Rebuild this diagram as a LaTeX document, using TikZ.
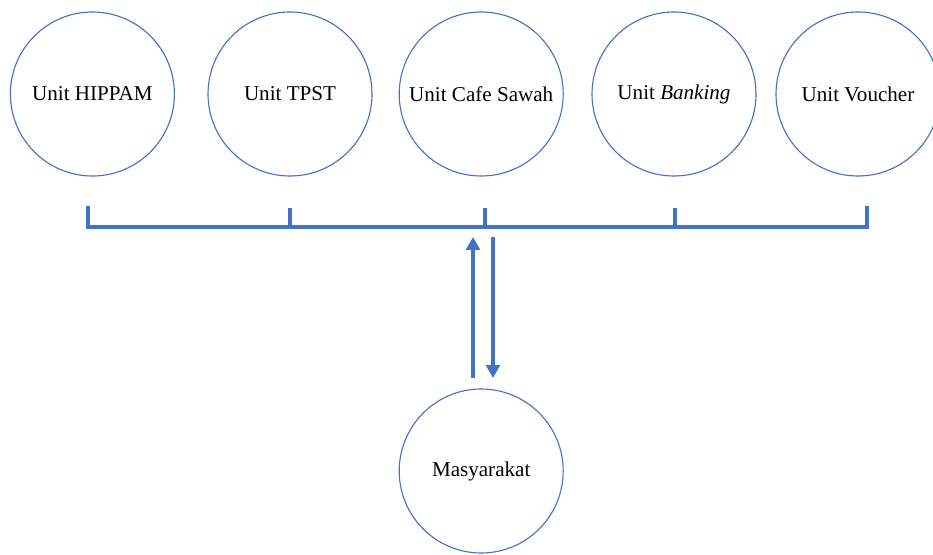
\documentclass[tikz,border=0pt]{standalone}
\usepackage{fontspec}
\setmainfont{Liberation Serif}
\usepackage{xcolor}
\usepackage{tikz}
\usetikzlibrary{arrows.meta}
\definecolor{unitblue}{HTML}{4472C4}
\tikzset{
  unit/.style={circle, draw=unitblue, line width=0.8pt, minimum size=4.1cm,
    inner sep=0pt, font=\fontsize{15}{18}\selectfont},
  bar/.style={draw=unitblue, line width=3pt},
  flow/.style={draw=unitblue, line width=3pt,
    -{Triangle[width=0.34cm,length=0.32cm]}}
}

\begin{document}
\begin{tikzpicture}
\useasboundingbox (0,0) rectangle (23.325,13.85);
% units
\node[unit] (hippam) at (2.31,11.5) {Unit HIPPAM};
\node[unit] (tpst) at (7.25,11.5) {Unit TPST};
\node[unit] (cafe) at (12.03,11.5) {Unit Cafe Sawah};
\node[unit] (banking) at (16.85,11.5) {Unit \textit{Banking}};
\node[unit] (voucher) at (21.45,11.5) {Unit Voucher};
\node[unit] (masy) at (12.03,2.075) {Masyarakat};

% bracket
\coordinate (b1) at (2.2,8.175);
\coordinate (b5) at (21.675,8.175);
\draw[bar, line cap=rect] (2.2,8.65) -- (b1) -- (b5) -- (21.675,8.65);
\foreach \x in {7.25,12.125,16.875}
  \draw[bar] (\x,8.175) -- (\x,8.65);

% flows
\coordinate (up0) at (11.825,4.4);
\coordinate (up1) at (11.825,7.925);
\coordinate (dn0) at (12.325,7.925);
\coordinate (dn1) at (12.325,4.4);
\draw[flow] (up0) -- (up1);
\draw[flow] (dn0) -- (dn1);
\end{tikzpicture}
\end{document}
